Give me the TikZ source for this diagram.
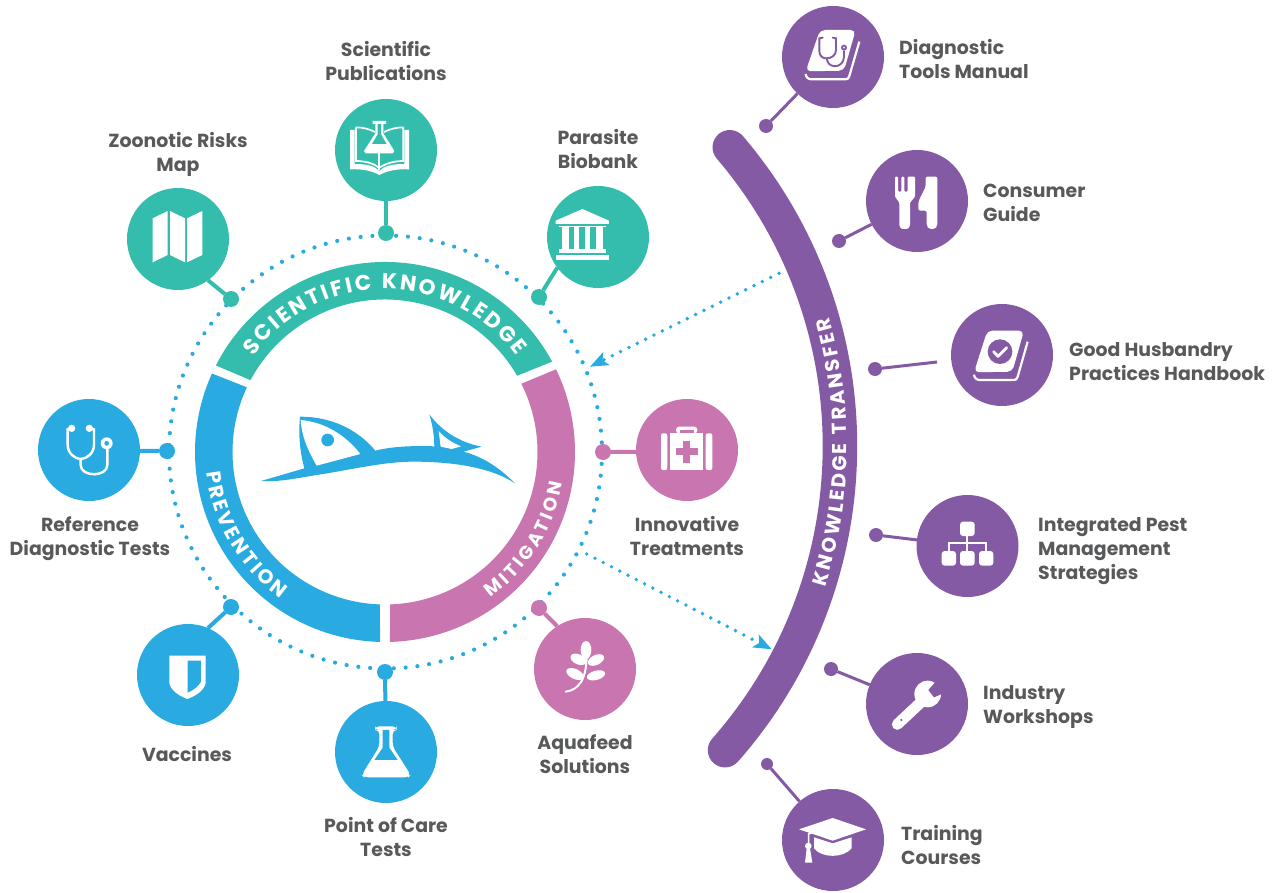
\documentclass[tikz,border=0pt]{standalone}
\usepackage{fontspec}
\setmainfont{Poppins}
\usetikzlibrary{decorations.text,arrows.meta,calc}
\definecolor{cgreen}{HTML}{34BDAD}
\definecolor{cblue}{HTML}{29ABE2}
\definecolor{cpink}{HTML}{C976B0}
\definecolor{cpurple}{HTML}{855AA5}
\definecolor{ctext}{HTML}{58595B}
\tikzset{
 disc/.style={circle,fill=#1,minimum size=102pt,inner sep=0pt,outer sep=0pt},
 pin/.style={circle,fill=#1,minimum size=16pt,inner sep=0pt,outer sep=0pt},
 ppin/.style={circle,fill=cpurple,minimum size=14pt,inner sep=0pt,outer sep=0pt},
 link/.style={draw=#1,line width=4pt},
 plink/.style={draw=cpurple,line width=3pt},
 lab/.style={text=ctext,font=\fontsize{18.9}{24}\selectfont\bfseries,inner sep=0pt},
 clab/.style={lab,align=center,anchor=center},
 llab/.style={lab,align=left,anchor=west},
 dotline/.style={draw=cblue,line width=3.9pt,line cap=round,dash pattern=on 0pt off 9.3pt},
 ic/.style={fill=white,draw=none},
}
\newcommand{\ringseg}[7]{\fill[#1] ($(R)+(#2:190)$) arc[start angle=#2,end angle=#3,radius=190] -- ($(R)+(#4:152.5)$) arc[start angle=#4,end angle=#5,radius=152.5] -- cycle;}
\newcommand{\arcfnt}{\fontsize{21.5}{21.5}\selectfont\bfseries\color{white}}
\begin{document}
\begin{tikzpicture}[x=1pt,y=1pt,yscale=-1]
\useasboundingbox (0,0) rectangle (1277,893);
\coordinate (R) at (385,452);
\coordinate (B) at (380,446);
% dotted circle
\draw[draw=cblue,line width=4.2pt,line cap=round,dash pattern=on 0pt off 11.85pt] (385.5,452) circle[radius=216.5];
% ring
\ringseg{cblue}{-155.6}{-268.5}{-268.1}{-154.9}{}{}
\ringseg{cgreen}{-152.9}{-28.4}{-30}{-151.9}{}{}
\ringseg{cpink}{-25.8}{88.5}{88.1}{-26.6}{}{}
% ring text
\path[decorate,decoration={text along path,text={|\arcfnt|SCIENTIFIC KNOWLEDGE},text align={fit to path}}] ($(R)+(-144:163)$) arc[start angle=-144,end angle=-36,radius=163];
\path[decorate,decoration={text along path,text={|\fontsize{20}{20}\selectfont\bfseries\color{white}|PREVENTION},text align={fit to path}}] ($(R)+(-186.4:180)$) arc[start angle=-186.4,end angle=-234.6,radius=180];
\path[decorate,decoration={text along path,text={|\fontsize{18.5}{18.5}\selectfont\bfseries\color{white}|MITIGATION},text align={fit to path}}] ($(R)+(54:180)$) arc[start angle=54,end angle=10,radius=180];
% fish
\begin{scope}[shift={(250,405)},scale=1/3]
\fill[cblue] (33,228) -- (163,190) .. controls (147,130) and (146,80) .. (150,35) .. controls (240,35) and (320,70) .. (376,137) .. controls (430,123) and (500,122) .. (553,124) .. controls (552,90) and (548,60) .. (538,28) .. controls (580,85) and (640,115) .. (695,125) -- (640,140) .. controls (700,155) and (750,190) .. (795,235) .. controls (720,185) and (600,170) .. (490,170) .. controls (400,170) and (300,195) .. (200,210) .. controls (140,220) and (80,232) .. (33,228) -- cycle;
\fill[white] (152,45) .. controls (230,52) and (290,95) .. (331,147) -- (200,182) .. controls (170,130) and (155,90) .. (152,45) -- cycle;
\fill[cblue] (233,105) circle[radius=19];
\fill[white] (566,78) -- (572,125) -- (605,132) -- (633,124) .. controls (610,115) and (585,100) .. (566,78) -- cycle;
\end{scope}
% purple band
\draw[cpurple,line width=34.5pt,line cap=round] ($(B)+(-40.5:460)$) arc[start angle=-40.5,end angle=41.4,radius=460];
\path[decorate,decoration={text along path,text={|\fontsize{20}{20}\selectfont\bfseries\color{white}|KNOWLEDGE TRANSFER},text align={fit to path}}] ($(B)+(17.6:467)$) arc[start angle=17.6,end angle=-16,radius=467];
% dotted arrows
\coordinate (a1s) at (779,273.3);
\coordinate (a1e) at (590,366.7);
\coordinate (a2s) at (586.7,554);
\coordinate (a2e) at (771.7,649.3);
\draw[dotline,-{Stealth[length=18pt,width=14pt,inset=4pt,fill=cblue]}] (a1s) -- (a1e);
\draw[dotline,-{Stealth[length=18pt,width=14pt,inset=4pt,fill=cblue]}] (a2s) -- (a2e);
% nodes
\node[disc=cgreen] (sp) at (386,150) {};
\node[pin=cgreen] (spd) at (386,233) {};
\node[disc=cgreen] (zr) at (178,239) {};
\node[pin=cgreen] (zrd) at (231,299) {};
\node[disc=cgreen] (pb) at (598,237) {};
\node[pin=cgreen] (pbd) at (539,297) {};
\node[disc=cblue] (rd) at (89,450) {};
\node[pin=cblue] (rdd) at (167,451) {};
\node[disc=cblue] (va) at (188,675) {};
\node[pin=cblue] (vad) at (231,607) {};
\node[disc=cblue] (pc) at (386,752) {};
\node[pin=cblue] (pcd) at (385,672) {};
\node[disc=cpink] (it) at (687,450) {};
\node[pin=cpink] (itd) at (603,452) {};
\node[disc=cpink] (aq) at (585,669) {};
\node[pin=cpink] (aqd) at (539,608) {};
\node[disc=cpurple] (dm) at (833,57) {};
\node[ppin] (dmd) at (766,126) {};
\node[disc=cpurple] (cg) at (917,201) {};
\node[ppin] (cgd) at (839,241) {};
\node[disc=cpurple] (gh) at (1002,355) {};
\node[ppin] (ghd) at (875,369) {};
\coordinate (ghe) at (937,362);
\node[disc=cpurple] (ip) at (967.5,546) {};
\node[ppin] (ipd) at (876,535) {};
\node[disc=cpurple] (iw) at (917,704) {};
\node[ppin] (iwd) at (831,669) {};
\node[disc=cpurple] (tc) at (833,840) {};
\node[ppin,minimum size=12pt] (tcd) at (767,764) {};
% connectors
\draw[link=cgreen] (sp) -- (spd);
\draw[link=cgreen] (zr.-54) -- (zrd);
\draw[link=cgreen] (pb.217) -- (pbd);
\draw[link=cblue] (rd.-1) -- (rdd);
\draw[link=cblue] (va.67) -- (vad);
\draw[link=cblue] (pc) -- (pcd);
\draw[link=cpink] (it.182) -- (itd);
\draw[link=cpink] (aq.123) -- (aqd);
\draw[plink] (dm) -- (dmd);
\draw[plink] (cg) -- (cgd);
\draw[plink] (ghd) -- (ghe);
\draw[plink] (ip) -- (ipd);
\draw[plink] (iw) -- (iwd);
\draw[plink] (tc) -- (tcd);
% labels
\node[clab] (l1) at (386,61) {Scientific\\Publications};
\node[clab] (l2) at (178,154) {Zoonotic Risks\\Map};
\node[clab] (l3) at (598,149) {Parasite\\Biobank};
\node[clab] (l4) at (90,539) {Reference\\Diagnostic Tests};
\node[clab] (l5) at (187,754) {Vaccines};
\node[clab] (l6) at (386,837) {Point of Care\\Tests};
\node[clab] (l7) at (687,536) {Innovative\\Treatments};
\node[clab] (l8) at (585,754) {Aquafeed\\Solutions};
\node[llab] (l9) at (899,59.5) {Diagnostic\\Tools Manual};
\node[llab] (l10) at (983,203) {Consumer\\Guide};
\node[llab] (l11) at (1069,362) {Good Husbandry\\Practices Handbook};
\node[llab] (l12) at (1038,551) {Integrated Pest\\Management\\Strategies};
\node[llab] (l13) at (983,707) {Industry\\Workshops};
\node[llab] (l14) at (901,845) {Training\\Courses};
% icons from zoom 2
\begin{scope}[shift={(120,90)},scale=1/3]
% map
\fill[white] (98,385) -- (143,363) -- (143,495) -- (98,517) -- cycle;
\fill[white] (150,363) -- (195,385) -- (195,517) -- (150,495) -- cycle;
\fill[white] (201,385) -- (247,363) -- (247,495) -- (201,517) -- cycle;
% book and flask
\fill[white] (690,120) -- (704,120) -- (704,222) .. controls (740,222) and (765,228) .. (778,243) .. controls (791,228) and (816,222) .. (853,222) -- (853,120) -- (867,120) -- (867,238) .. controls (830,236) and (800,243) .. (778,255) .. controls (756,243) and (726,236) .. (690,238) -- cycle;
\draw[white,line width=1.7pt] (708,112) .. controls (730,112) and (750,118) .. (765,126);
\draw[white,line width=1.7pt] (708,112) -- (708,213) .. controls (735,213) and (760,220) .. (776,232);
\draw[white,line width=1.7pt] (850,112) .. controls (828,112) and (808,118) .. (792,126);
\draw[white,line width=1.7pt] (850,112) -- (850,213) .. controls (823,213) and (798,220) .. (780,232);
\draw[white,line width=1.7pt] (778,190) -- (778,240);
\fill[white] (758,93) -- (798,93) -- (798,102) -- (790,102) -- (790,130) -- (823,183) -- (818,190) -- (737,190) -- (732,183) -- (766,130) -- (766,102) -- (758,102) -- cycle;
\fill[cgreen] (773,102) -- (783,102) -- (783,133) -- (800,162) -- (756,162) -- (773,133) -- cycle;
% building
\fill[white] (1307,392) -- (1387,357) -- (1467,392) -- (1467,402) -- (1307,402) -- cycle;
\fill[white] (1317,407) rectangle (1457,412);
\fill[white] (1325,412) rectangle (1346,478);
\fill[white] (1362,412) rectangle (1378,478);
\fill[white] (1395,412) rectangle (1411,478);
\fill[white] (1427,412) rectangle (1448,478);
\fill[white] (1317,478) rectangle (1457,490);
\fill[white] (1307,495) rectangle (1467,510);
\end{scope}
% icons from zoom 5
\begin{scope}[shift={(30,390)},scale=1/3]
\draw[white,line width=2.4pt,line cap=round] (125,115) -- (113,118) -- (113,165) .. controls (113,190) and (135,207) .. (152,207) .. controls (170,207) and (192,190) .. (192,165) -- (192,118) -- (178,115);
\draw[white,line width=2.4pt] (152,207) -- (152,225) .. controls (152,262) and (232,262) .. (232,225) -- (232,175);
\fill[white] (125,115) circle[radius=11];
\fill[white] (178,115) circle[radius=11];
\fill[white] (230,160) circle[radius=18];
\fill[cblue] (230,160) circle[radius=7];
% shield
\fill[white] (418,797) -- (527,797) -- (527,880) .. controls (520,905) and (495,918) .. (472,927) .. controls (450,918) and (425,905) .. (418,880) -- cycle;
\fill[cblue] (473,812) -- (513,812) -- (513,875) .. controls (505,890) and (490,900) .. (473,908) -- cycle;
\end{scope}
% icons from zoom 6
\begin{scope}[shift={(320,400)},scale=1/3]
% flask
\fill[white,rounded corners=4pt] (165,979) -- (230,979) -- (230,990) -- (218,990) -- (218,1040) -- (272,1125) -- (265,1132) -- (132,1132) -- (125,1125) -- (178,1040) -- (178,990) -- (165,990) -- cycle;
\fill[cblue] (188,990) -- (208,990) -- (208,1043) -- (233,1080) -- (163,1080) -- (188,1043) -- cycle;
% kit
\fill[white,rounded corners=2pt] (1023,100) -- (1042,100) -- (1042,210) -- (1023,210) -- cycle;
\fill[white,rounded corners=2pt] (1157,100) -- (1177,100) -- (1177,210) -- (1157,210) -- cycle;
\fill[white] (1050,100) rectangle (1150,210);
\fill[white,rounded corners=3pt] (1068,100) -- (1068,80) -- (1132,80) -- (1132,100) -- cycle;
\fill[cpink] (1080,90) rectangle (1122,100);
\fill[cpink] (1089,122) rectangle (1111,188);
\fill[cpink] (1067,144) rectangle (1133,166);
% plant
\draw[white,line width=2pt,line cap=round] (737,875) .. controls (775,870) and (800,840) .. (800,765);
\fill[white] (798,750) ellipse[x radius=16,y radius=27];
\fill[white,rotate around={25:(775,778)}] (775,778) ellipse[x radius=25,y radius=15];
\fill[white,rotate around={-25:(828,780)}] (828,780) ellipse[x radius=26,y radius=15];
\fill[white,rotate around={25:(765,822)}] (765,822) ellipse[x radius=28,y radius=15];
\fill[white,rotate around={-15:(828,826)}] (828,826) ellipse[x radius=28,y radius=14];
\end{scope}
% icons from zoom 3
\begin{scope}[shift={(760,0)},scale=1/3]
% book 1
\fill[white,rounded corners=5pt] (180,90) -- (287,90) -- (252,212) -- (137,214) -- cycle;
\draw[white,line width=2.2pt] (298,125) -- (268,228) .. controls (264,238) and (260,238) .. (255,238) -- (155,238) .. controls (145,238) and (138,232) .. (137,222);
\draw[cpurple,line width=1.9pt,line cap=round] (188,113) -- (178,115) -- (178,150) .. controls (178,172) and (190,175) .. (200,175) .. controls (215,175) and (228,165) .. (228,150) -- (228,115) -- (218,113);
\draw[cpurple,line width=1.9pt] (200,175) -- (203,185) .. controls (210,205) and (250,205) .. (252,170) -- (252,152);
\fill[cpurple] (252,143) circle[radius=9]; \fill[white] (252,143) circle[radius=3];
% fork
\fill[white,rounded corners=1pt] (405,530) -- (414,530) -- (414,575) -- (424,575) -- (424,530) -- (433,530) -- (433,575) -- (443,575) -- (443,530) -- (465,530) -- (465,590) -- (450,608) -- (450,678) -- (443,687) -- (425,687) -- (418,678) -- (418,608) -- (405,590) -- cycle;
\fill[white,rounded corners=2pt] (497,530) -- (532,530) -- (532,678) -- (525,687) -- (507,687) -- (500,678) -- (500,632) -- (475,632) -- (475,605) -- (497,560) -- cycle;
% book 2
\fill[white,rounded corners=5pt] (682,992) -- (792,992) -- (757,1115) -- (642,1117) -- cycle;
\draw[white,line width=2.2pt] (803,1025) -- (773,1130) .. controls (769,1140) and (765,1140) .. (760,1140) -- (660,1140) .. controls (650,1140) and (643,1134) .. (642,1124);
\fill[cpurple] (720,1055) circle[radius=37];
\draw[white,line width=2.8pt,line cap=round,line join=round] (701,1055) -- (714,1069) -- (740,1043);
\end{scope}
% icons from zoom 4
\begin{scope}[shift={(760,480)},scale=1/3]
% tree
\fill[white,rounded corners=3pt] (600,125) rectangle (644,168);
\fill[white,rounded corners=3pt] (545,213) rectangle (588,257);
\fill[white,rounded corners=3pt] (600,213) rectangle (644,257);
\fill[white,rounded corners=3pt] (657,213) rectangle (700,257);
\draw[white,line width=2pt] (622,168) -- (622,213);
\draw[white,line width=2pt] (566,213) -- (566,190) -- (678,190) -- (678,213);
% wrench
\draw[white,line width=11pt,line cap=round] (412,733) -- (490,660);
\fill[white] (503,642) circle[radius=40];
\fill[cpurple] (505,630) -- (528,604) -- (550,604) -- (550,640) -- (522,652) -- cycle;
\fill[cpurple] (424,720) circle[radius=4];
% cap
\fill[white] (117,1048) -- (218,1014) -- (318,1048) -- (218,1082) -- cycle;
\fill[white] (162,1072) -- (218,1090) -- (275,1072) -- (275,1105) .. controls (250,1135) and (185,1135) .. (162,1105) -- cycle;
\draw[white,line width=1.6pt] (155,1058) -- (146,1062) -- (146,1095);
\fill[white] (145,1098) circle[radius=10];
\fill[white] (140,1105) -- (150,1105) -- (157,1148) -- (135,1148) -- cycle;
\end{scope}
\end{tikzpicture}
\end{document}
